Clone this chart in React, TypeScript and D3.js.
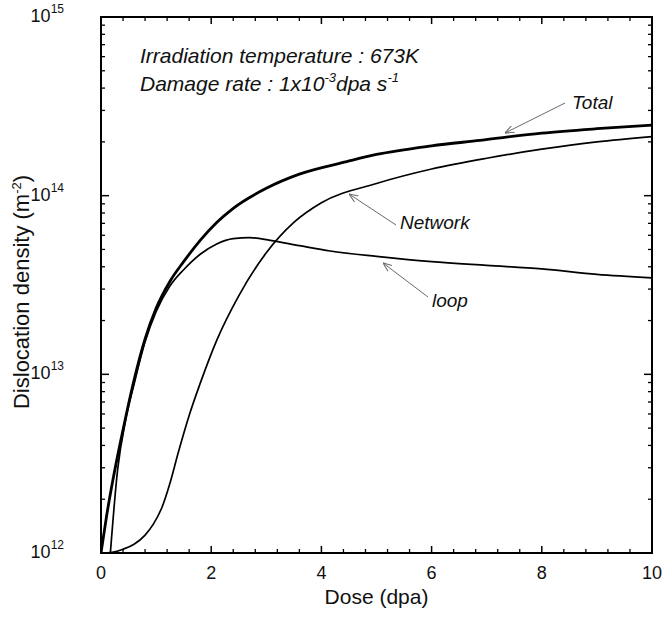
import React from 'react';
import * as d3 from 'd3';

const W = 667;
const H = 617;

const doseTotal = [0, 0.1, 0.22, 0.4, 0.6, 0.8, 1.0, 1.25, 1.5, 1.8, 2.1, 2.4, 3.0, 3.6, 4.46, 5.0, 6.0, 6.88, 8.0, 9.0, 10.0];
const densTotal = [1.0e12, 1.6e12, 2.6e12, 4.9e12, 9.3e12, 1.58e13, 2.34e13, 3.31e13, 4.27e13, 5.62e13, 7.08e13, 8.5e13, 1.1e14, 1.32e14, 1.55e14, 1.7e14, 1.9e14, 2.04e14, 2.24e14, 2.37e14, 2.48e14];

const doseNetwork = [0, 0.2, 0.4, 0.6, 0.8, 0.95, 1.1, 1.25, 1.4, 1.6, 1.8, 2.1, 2.5, 3.0, 3.5, 4.0, 5.0, 6.0, 7.0, 8.0, 9.0, 10.0];
const densNetwork = [1.0e12, 1.01e12, 1.05e12, 1.12e12, 1.26e12, 1.45e12, 1.78e12, 2.45e12, 3.63e12, 5.89e12, 8.9e12, 1.55e13, 2.75e13, 4.79e13, 7.08e13, 9.12e13, 1.17e14, 1.41e14, 1.62e14, 1.82e14, 2.0e14, 2.14e14];

const doseLoop = [0.17, 0.3, 0.45, 0.6, 0.8, 1.0, 1.25, 1.5, 1.8, 2.1, 2.4, 2.7, 3.07, 3.6, 4.16, 5, 6, 7, 8, 9, 10];
const densLoop = [1.0e12, 2.9e12, 5.6e12, 8.8e12, 1.52e13, 2.24e13, 3.12e13, 3.85e13, 4.7e13, 5.37e13, 5.75e13, 5.82e13, 5.62e13, 5.25e13, 4.9e13, 4.57e13, 4.27e13, 4.07e13, 3.89e13, 3.63e13, 3.47e13];

const xMajorTicks = [0, 2, 4, 6, 8, 10];
const yDecades = [12, 13, 14, 15];

const title1 = 'Irradiation temperature : 673K';
const xLabel = 'Dose (dpa)';

const M = { left: 101, right: 652, top: 17, bottom: 553 };

export default function App() {
  const x = d3.scaleLinear().domain([0, 10]).range([M.left, M.right]);
  const y = d3.scaleLog().domain([1e12, 1e15]).range([M.bottom, M.top]);

  const line = d3
    .line<[number, number]>()
    .x((d) => x(d[0]))
    .y((d) => y(d[1]))
    .curve(d3.curveMonotoneX);

  const zip = (a: number[], b: number[]) => a.map((v, i) => [v, b[i]] as [number, number]);

  const xMinor = d3.range(0, 10.0001, 0.4).filter((v) => Math.abs(v / 2 - Math.round(v / 2)) > 1e-6);
  const yMinor: number[] = [];
  for (let e = 12; e < 15; e++) for (let k = 2; k <= 9; k++) yMinor.push(k * Math.pow(10, e));

  const font = 'Liberation Sans, Arial, Helvetica, sans-serif';
  const gray = '#6a6a6a';

  const arrows = [
    { from: [565, 103], to: [505, 133] },
    { from: [396, 225], to: [349, 194] },
    { from: [428, 297], to: [383, 263] },
  ];

  return (
    <svg width={W} height={H} style={{ position: 'absolute', left: 0, top: 0, background: '#fff' }} fontFamily={font}>
      <defs>
        <clipPath id="plot">
          <rect x={M.left} y={M.top} width={M.right - M.left} height={M.bottom - M.top} />
        </clipPath>
        <marker id="arr" viewBox="0 0 10 10" refX="10" refY="5" markerWidth="9" markerHeight="9" orient="auto" markerUnits="userSpaceOnUse">
          <path d="M0,1 L10,5 L0,9" fill="none" stroke={gray} strokeWidth={1.2} />
        </marker>
      </defs>

      {xMajorTicks.map((t) => (
        <g key={'xm' + t}>
          <line x1={x(t)} x2={x(t)} y1={M.bottom} y2={M.bottom - 7} stroke="#000" strokeWidth={1.5} />
          <line x1={x(t)} x2={x(t)} y1={M.top} y2={M.top + 7} stroke="#000" strokeWidth={1.5} />
          <text x={x(t)} y={579} textAnchor="middle" fontSize={18} fill="#111">{t}</text>
        </g>
      ))}
      {xMinor.map((t) => (
        <g key={'xn' + t}>
          <line x1={x(t)} x2={x(t)} y1={M.bottom} y2={M.bottom - 4} stroke="#000" strokeWidth={1.3} />
          <line x1={x(t)} x2={x(t)} y1={M.top} y2={M.top + 4} stroke="#000" strokeWidth={1.3} />
        </g>
      ))}

      {yDecades.map((e) => (
        <g key={'yd' + e}>
          <line x1={M.left} x2={M.left + 8} y1={y(Math.pow(10, e))} y2={y(Math.pow(10, e))} stroke="#000" strokeWidth={1.5} />
          <line x1={M.right} x2={M.right - 8} y1={y(Math.pow(10, e))} y2={y(Math.pow(10, e))} stroke="#000" strokeWidth={1.5} />
          <text x={64} y={y(Math.pow(10, e)) + 5} textAnchor="end" fontSize={18} fill="#111">
            10
            <tspan dy={-9} fontSize={12}>{e}</tspan>
          </text>
        </g>
      ))}
      {yMinor.map((v) => (
        <g key={'yn' + v}>
          <line x1={M.left} x2={M.left + 4} y1={y(v)} y2={y(v)} stroke="#000" strokeWidth={1.3} />
          <line x1={M.right} x2={M.right - 4} y1={y(v)} y2={y(v)} stroke="#000" strokeWidth={1.3} />
        </g>
      ))}

      <rect x={M.left} y={M.top} width={M.right - M.left} height={M.bottom - M.top} fill="none" stroke="#000" strokeWidth={2} />

      <g clipPath="url(#plot)" fill="none" stroke="#000">
        <path d={line(zip(doseTotal, densTotal)) || ''} strokeWidth={2.8} />
        <path d={line(zip(doseNetwork, densNetwork)) || ''} strokeWidth={1.7} />
        <path d={line(zip(doseLoop, densLoop)) || ''} strokeWidth={1.7} />
      </g>

      {arrows.map((a, i) => (
        <line key={'ar' + i} x1={a.from[0]} y1={a.from[1]} x2={a.to[0]} y2={a.to[1]} stroke={gray} strokeWidth={1} markerEnd="url(#arr)" />
      ))}
      <text x={572} y={109} fontSize={19} fontStyle="italic" fill="#111">Total</text>
      <text x={400} y={229} fontSize={19} fontStyle="italic" fill="#111">Network</text>
      <text x={432} y={307} fontSize={19} fontStyle="italic" fill="#111">loop</text>

      <text x={140} y={63} fontSize={21} fontStyle="italic" fill="#111">{title1}</text>
      <text x={140} y={91} fontSize={21} fontStyle="italic" fill="#111">
        Damage rate : 1x10
        <tspan dy={-9} fontSize={13}>-3</tspan>
        <tspan dy={9}>dpa s</tspan>
        <tspan dy={-9} fontSize={13}>-1</tspan>
      </text>

      <text x={(M.left + M.right) / 2} y={604} textAnchor="middle" fontSize={21} fill="#111">{xLabel}</text>
      <text transform={`translate(29, 292) rotate(-90)`} textAnchor="middle" fontSize={22} fill="#111">
        Dislocation density (m
        <tspan dy={-8} fontSize={13}>-2</tspan>
        <tspan dy={8}>)</tspan>
      </text>
    </svg>
  );
}
